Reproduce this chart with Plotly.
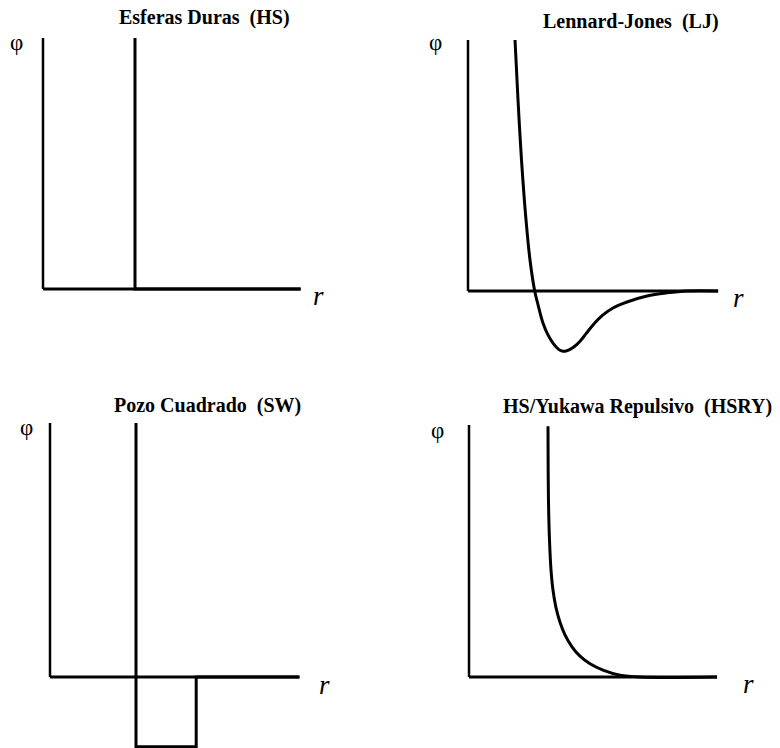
import plotly.graph_objects as go

W, H = 780, 748
SERIF = "Liberation Serif, Times New Roman, Times, serif"

# ---------------- data (r in units of sigma, phi in reduced units) ----------------
titles = ["Esferas Duras\u00a0\u00a0(HS)", "Lennard-Jones\u00a0\u00a0(LJ)",
          "Pozo Cuadrado\u00a0\u00a0(SW)", "HS/Yukawa Repulsivo\u00a0\u00a0(HSRY)"]

phi_top = 4.0                        # upper end of every phi axis
r_axis_end = [2.8, 3.75, 2.9, 3.14]  # extent of each r axis

# hard spheres
hs_r = [1.0, 1.0, 2.8]
hs_phi = [4.0, 0.0, 0.0]

# Lennard-Jones
lj_r = [0.705, 0.750, 0.802, 0.870, 0.930, 1.0, 1.05, 1.124, 1.199, 1.274, 1.33,
        1.38, 1.424, 1.47, 1.529, 1.60, 1.68, 1.77, 1.874, 2.024, 2.174, 2.384,
        2.684, 2.984, 3.28, 3.75]
lj_phi = [4.0, 3.04, 2.09, 1.13, 0.49, 0.0, -0.22, -0.51, -0.70, -0.83, -0.90,
          -0.945, -0.96, -0.955, -0.93, -0.88, -0.80, -0.68, -0.54, -0.38, -0.27, -0.175,
          -0.08, -0.03, 0.0, 0.0]

# square well
sw_r = [1.0, 1.0, 1.7, 1.7, 2.9]
sw_phi = [4.0, -1.1, -1.1, 0.0, 0.0]

# hard sphere + repulsive Yukawa
hsry_r = [1.0, 1.006, 1.019, 1.038, 1.063, 1.101, 1.152, 1.215, 1.304, 1.405,
          1.532, 1.696, 1.911, 2.165, 3.14]
hsry_phi = [3.98, 2.81, 2.17, 1.70, 1.38, 1.10, 0.87, 0.67, 0.48, 0.33,
            0.21, 0.11, 0.03, 0.0, 0.0]

# ---------------- page geometry (pixels) ----------------
# origin of each panel's axes, pixel scale per unit, and the plotting box
panels = [
    dict(X0=43, Y0=289, sx=92.0, sy=62.75, box=(33, 312, 28, 299)),
    dict(X0=468, Y0=291, sx=66.7, sy=62.75, box=(458, 730, 28, 364)),
    dict(X0=50, Y0=677, sx=86.0, sy=63.5, box=(40, 312, 413, 748)),
    dict(X0=469, Y0=677, sx=79.0, sy=63.0, box=(459, 729, 413, 690)),
]
curves = [(hs_r, hs_phi), (lj_r, lj_phi), (sw_r, sw_phi), (hsry_r, hsry_phi)]
title_pos = [(204, 18), (631, 21), (207, 405), (637, 407)]
phi_pos = [(16, 42), (435, 42), (26, 428), (437, 430)]
r_pos = [(318, 296), (738, 298), (324, 685), (748, 684)]

fig = go.Figure()
ann = []
for i, (p, (rv, fv)) in enumerate(zip(panels, curves)):
    n = "" if i == 0 else str(i + 1)
    L, R, T, B = p["box"]
    xr = [(L - p["X0"]) / p["sx"], (R - p["X0"]) / p["sx"]]
    yr = [(p["Y0"] - B) / p["sy"], (p["Y0"] - T) / p["sy"]]
    ax = dict(range=xr, domain=[L / W, R / W], visible=False, fixedrange=True)
    ay = dict(range=yr, domain=[1 - B / H, 1 - T / H], visible=False, fixedrange=True)
    fig.update_layout(**{"xaxis" + n: ax, "yaxis" + n: ay})
    # axes
    fig.add_trace(go.Scatter(x=[0, 0], y=[phi_top, 0], mode="lines",
                             line=dict(color="black", width=2.5),
                             xaxis="x" + n, yaxis="y" + n, hoverinfo="skip"))
    fig.add_trace(go.Scatter(x=[0, r_axis_end[i]], y=[0, 0], mode="lines",
                             line=dict(color="black", width=3),
                             xaxis="x" + n, yaxis="y" + n, hoverinfo="skip"))
    # potential
    shape = "spline" if i in (1, 3) else "linear"
    fig.add_trace(go.Scatter(x=rv, y=fv, mode="lines",
                             line=dict(color="black", width=3, shape=shape, smoothing=1.0),
                             xaxis="x" + n, yaxis="y" + n, hoverinfo="skip"))
    tx, ty = title_pos[i]
    ann.append(dict(x=tx / W, y=1 - ty / H, xref="paper", yref="paper", text="<b>" + titles[i] + "</b>",
                    showarrow=False, xanchor="center", yanchor="middle",
                    font=dict(family=SERIF, size=20, color="black")))
    fx, fy = phi_pos[i]
    ann.append(dict(x=fx / W, y=1 - fy / H, xref="paper", yref="paper", text="\u03c6",
                    showarrow=False, xanchor="center", yanchor="middle",
                    font=dict(family=SERIF, size=23, color="black")))
    rx, ry = r_pos[i]
    ann.append(dict(x=rx / W, y=1 - ry / H, xref="paper", yref="paper", text="<i>r</i>",
                    showarrow=False, xanchor="center", yanchor="middle",
                    font=dict(family=SERIF, size=27, color="black")))

fig.update_layout(width=W, height=H, margin=dict(l=0, r=0, t=0, b=0),
                  paper_bgcolor="white", plot_bgcolor="white",
                  showlegend=False, annotations=ann)
fig.write_html("out.html", config={"displayModeBar": False})
